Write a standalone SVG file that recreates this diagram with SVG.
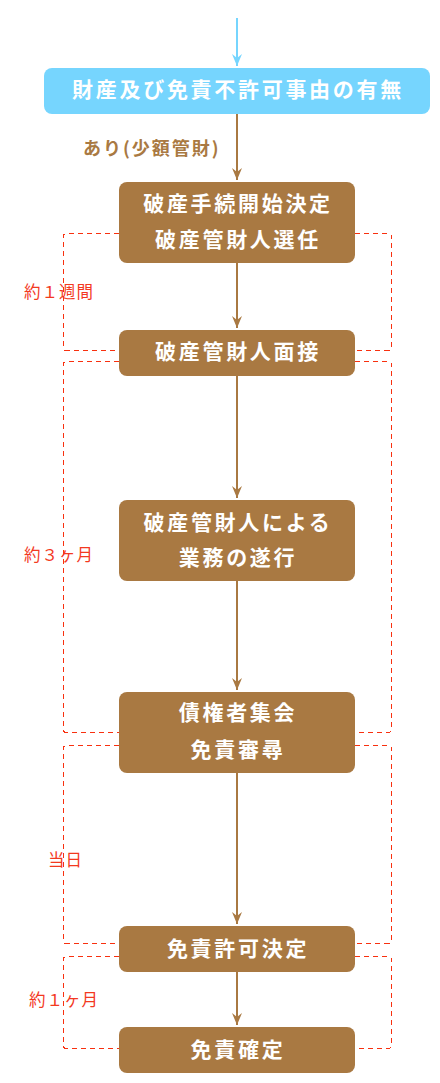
<svg xmlns="http://www.w3.org/2000/svg" width="440" height="1083" viewBox="0 0 440 1083">
<style>
.box{fill:#a97942}
.bl{fill:#76d5fe}
.t{font-family:"Noto Sans CJK JP","Noto Sans",sans-serif;font-weight:bold;font-size:21px;letter-spacing:2.7px;fill:#fff;text-anchor:middle}
.lab{font-family:"Noto Sans CJK JP","Noto Sans",sans-serif;font-size:16.5px;letter-spacing:1px;fill:#f3391f}
.br{fill:none;stroke:#f8300f;stroke-width:1;stroke-dasharray:5 4;shape-rendering:crispEdges}
.ln{stroke:#a97942;stroke-width:2;fill:none}
</style>
<defs>
<marker id="ab" viewBox="0 0 10 12" refX="5" refY="12" markerWidth="10" markerHeight="12" markerUnits="userSpaceOnUse">
<path d="M0,0 L5,4 L10,0 L5,12 Z" fill="#a97942"/>
</marker>
<marker id="ablue" viewBox="0 0 10 12" refX="5" refY="12" markerWidth="10" markerHeight="12" markerUnits="userSpaceOnUse">
<path d="M0,0 L5,4 L10,0 L5,12 Z" fill="#76d5fe"/>
</marker>
</defs>
<g id="connectors">
<line x1="237" y1="18" x2="237" y2="66" stroke="#76d5fe" stroke-width="2" marker-end="url(#ablue)"/>
<path class="ln" d="M237,114 V180" marker-end="url(#ab)"/>
<path class="ln" d="M237,262 V328" marker-end="url(#ab)"/>
<path class="ln" d="M237,376 V498" marker-end="url(#ab)"/>
<path class="ln" d="M237,580 V690" marker-end="url(#ab)"/>
<path class="ln" d="M237,772 V924" marker-end="url(#ab)"/>
<path class="ln" d="M237,972 V1025" marker-end="url(#ab)"/>
</g>
<g id="brackets">
<path class="br" d="M119,233.5 H66.5 Q63.5,233.5 63.5,236.5 V347.5 Q63.5,350.5 66.5,350.5 H119"/>
<path class="br" d="M355,233.5 H388.5 Q391.5,233.5 391.5,236.5 V347.5 Q391.5,350.5 388.5,350.5 H355"/>
<path class="br" d="M119,361.5 H66.5 Q63.5,361.5 63.5,364.5 V729.5 Q63.5,732.5 66.5,732.5 H119"/>
<path class="br" d="M355,361.5 H388.5 Q391.5,361.5 391.5,364.5 V729.5 Q391.5,732.5 388.5,732.5 H355"/>
<path class="br" d="M119,745.5 H66.5 Q63.5,745.5 63.5,748.5 V940.5 Q63.5,943.5 66.5,943.5 H119"/>
<path class="br" d="M355,745.5 H388.5 Q391.5,745.5 391.5,748.5 V940.5 Q391.5,943.5 388.5,943.5 H355"/>
<path class="br" d="M119,956.5 H66.5 Q63.5,956.5 63.5,959.5 V1045.5 Q63.5,1048.5 66.5,1048.5 H119"/>
<path class="br" d="M355,956.5 H388.5 Q391.5,956.5 391.5,959.5 V1045.5 Q391.5,1048.5 388.5,1048.5 H355"/>
<text class="lab" x="24" y="298">約１週間</text>
<text class="lab" x="24" y="561">約３ヶ月</text>
<text class="lab" x="48" y="866">当日</text>
<text class="lab" x="29" y="1006">約１ヶ月</text>
</g>
<text x="83" y="155" font-family="Noto Sans CJK JP,sans-serif" font-weight="bold" font-size="18" letter-spacing="2" fill="#a97942">あり(少額管財)</text>
<g id="n0"><rect class="bl" x="44" y="68" width="386" height="46" rx="8"/><text class="t" x="238" y="97">財産及び免責不許可事由の有無</text></g>
<g id="n1"><rect class="box" x="119" y="182" width="236" height="81" rx="8"/><text class="t" x="238" y="211">破産手続開始決定</text><text class="t" x="238" y="247">破産管財人選任</text></g>
<g id="n2"><rect class="box" x="119" y="330" width="236" height="46" rx="8"/><text class="t" x="238" y="359">破産管財人面接</text></g>
<g id="n3"><rect class="box" x="119" y="500" width="236" height="81" rx="8"/><text class="t" x="238" y="530">破産管財人による</text><text class="t" x="238" y="565">業務の遂行</text></g>
<g id="n4"><rect class="box" x="119" y="692" width="236" height="81" rx="8"/><text class="t" x="238" y="720">債権者集会</text><text class="t" x="238" y="757">免責審尋</text></g>
<g id="n5"><rect class="box" x="119" y="926" width="236" height="46" rx="8"/><text class="t" x="238" y="956">免責許可決定</text></g>
<g id="n6"><rect class="box" x="119" y="1027" width="236" height="46" rx="8"/><text class="t" x="238" y="1057">免責確定</text></g>
</svg>
